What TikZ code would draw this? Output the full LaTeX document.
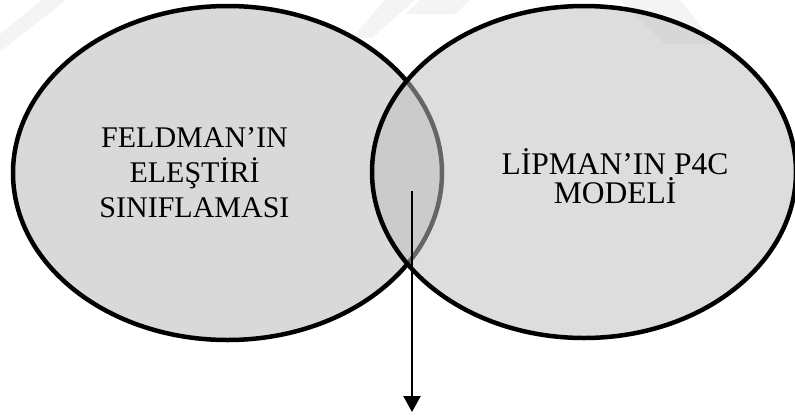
\documentclass[tikz,border=0pt]{standalone}
\usepackage{fontspec}
\setmainfont{Liberation Serif}
\usetikzlibrary{shapes.geometric,arrows.meta}
\definecolor{leftfill}{RGB}{217,217,217}
\definecolor{rightfill}{RGB}{191,191,191}
\definecolor{wmark}{RGB}{244,244,244}
\tikzset{
  circ/.style={ellipse, draw=black, line width=4.5pt, inner sep=0pt, outer sep=0pt},
  lbl/.style={align=center, inner sep=0pt},
  conn/.style={line width=2.2pt, -{Triangle[width=17pt,length=16pt]}},
  wm/.style={fill=wmark, draw=none}
}
\begin{document}
\begin{tikzpicture}[x=1pt,y=-1pt]
\useasboundingbox (0,0) rectangle (795,416);
% faint background watermark
\fill[wm] (0,52) -- (0,34) -- (42,0) -- (66,0) -- cycle;
\fill[wm] (352,38) -- (385,0) -- (415,0) -- (372,38) -- cycle;
\fill[wm] (420,0) -- (470,0) -- (455,14) -- (405,14) -- cycle;
\fill[wm] (620,0) -- (680,0) -- (715,44) -- (665,44) -- cycle;
% circles
\node[circ, fill=leftfill, minimum width=429pt, minimum height=334pt] (feld) at (227.5,173) {};
\node[circ, fill=rightfill, fill opacity=0.533, minimum width=424pt, minimum height=332pt] (lip) at (584,172) {};
% labels
\node[lbl, font=\fontsize{30}{35}\selectfont] (t1) at (194.5,173) {FELDMAN’IN\\ELEŞTİRİ\\SINIFLAMASI};
\node[lbl, font=\fontsize{31.5}{29}\selectfont] (t2) at (615,176) {LİPMAN’IN P4C\\MODELİ};
% arrow
\coordinate (s) at (412,191);
\coordinate (e) at (412,412);
\draw[conn] (s) -- (e);
\end{tikzpicture}
\end{document}
